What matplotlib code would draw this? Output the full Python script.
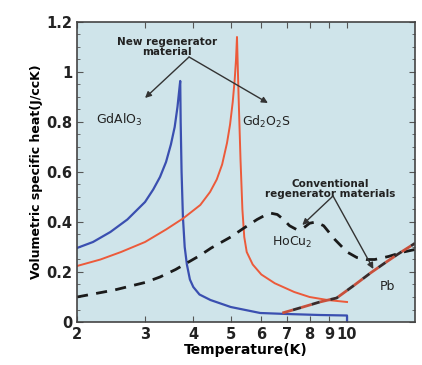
import matplotlib
matplotlib.use('Agg')
import matplotlib.pyplot as plt
from matplotlib.ticker import FixedLocator, NullLocator, MultipleLocator

# GdAlO3 (new regenerator material)
gdalo3_T = [2.0, 2.2, 2.44, 2.7, 3.0, 3.15, 3.28, 3.4, 3.5, 3.58, 3.64, 3.68, 3.70,
            3.71, 3.73, 3.76, 3.80, 3.85, 3.92, 4.0, 4.15, 4.43, 5.0, 5.96, 7.0, 8.5,
            10.0, 10.0]
gdalo3_C = [0.296, 0.32, 0.36, 0.41, 0.48, 0.53, 0.58, 0.64, 0.71, 0.78, 0.86, 0.93, 0.964,
            0.8, 0.6, 0.42, 0.3, 0.23, 0.17, 0.14, 0.11, 0.088, 0.06, 0.036, 0.032, 0.028,
            0.026, 0.0]

# Gd2O2S (new regenerator material)
gd2o2s_T = [2.0, 2.3, 2.6, 3.0, 3.4, 3.77, 4.17, 4.42, 4.6, 4.75, 4.89, 4.98, 5.06,
            5.12, 5.16, 5.19, 5.24, 5.30, 5.36, 5.42, 5.5, 5.7, 6.0, 6.5, 7.3, 8.0,
            8.9, 10.0]
gd2o2s_C = [0.224, 0.25, 0.28, 0.32, 0.37, 0.415, 0.468, 0.52, 0.57, 0.63, 0.716, 0.79, 0.88,
            0.97, 1.05, 1.14, 0.9, 0.65, 0.45, 0.34, 0.28, 0.23, 0.19, 0.155, 0.12, 0.1,
            0.088, 0.08]

# HoCu2 (conventional)
hocu2_T = [2.0, 2.5, 3.0, 3.28, 3.6, 3.85, 4.15, 4.45, 5.0, 5.4, 5.85, 6.1, 6.36, 6.6,
           6.85, 7.1, 7.4, 7.7, 8.0, 8.3, 8.7, 9.3, 10.0, 10.6, 11.2, 11.8, 12.8, 14.0, 15.0]
hocu2_C = [0.1, 0.128, 0.158, 0.18, 0.21, 0.236, 0.265, 0.296, 0.34, 0.375, 0.41, 0.425, 0.435, 0.43,
           0.41, 0.385, 0.37, 0.375, 0.395, 0.4, 0.385, 0.33, 0.28, 0.258, 0.25, 0.25, 0.262, 0.28, 0.29]

# Pb (conventional)
pb_T = [6.8, 7.5, 8.5, 9.4, 10.5, 11.5, 12.5, 13.5, 15.0]
pb_C = [0.036, 0.055, 0.08, 0.096, 0.15, 0.196, 0.235, 0.27, 0.315]

x_ticks = [2, 3, 4, 5, 6, 7, 8, 9, 10]
y_ticks = [0, 0.2, 0.4, 0.6, 0.8, 1.0, 1.2]
y_tick_labels = ['0', '0.2', '0.4', '0.6', '0.8', '1', '1.2']

plt.rcParams['font.family'] = 'DejaVu Sans'

fig = plt.figure(figsize=(4.22, 3.65), dpi=100)
ax = fig.add_axes([0.1825, 0.1178, 0.801, 0.822])
ax.set_facecolor('#cfe4ea')

ax.plot(gdalo3_T, gdalo3_C, color='#3a4fb0', lw=1.6)
ax.plot(gd2o2s_T, gd2o2s_C, color='#ec5a3a', lw=1.4)
ax.plot(hocu2_T, hocu2_C, color='#1a1a1a', lw=2.0, dashes=(4, 3))
# Pb: red and dark dashes alternating
ax.plot(pb_T, pb_C, color='#c8503c', lw=2.0, dashes=(4, 3))
ax.plot(pb_T, pb_C, color='#3a2a2a', lw=2.0, dashes=(0, 4, 3, 0))

ax.set_xscale('log')
ax.set_xlim(2, 15)
ax.set_ylim(0, 1.2)
ax.xaxis.set_major_locator(FixedLocator(x_ticks))
ax.xaxis.set_minor_locator(NullLocator())
ax.set_xticklabels([str(t) for t in x_ticks])
ax.set_yticks(y_ticks)
ax.set_yticklabels(y_tick_labels)
ax.yaxis.set_minor_locator(MultipleLocator(0.05))
ax.tick_params(which='both', direction='in', top=True, right=True, color='#555555')
ax.tick_params(which='major', length=4, labelsize=10.5)
ax.tick_params(which='minor', length=2)
for lab in ax.get_xticklabels() + ax.get_yticklabels():
    lab.set_fontweight('bold')
    lab.set_color('#222222')
for sp in ax.spines.values():
    sp.set_color('#444444')
    sp.set_linewidth(1.2)

ax.set_xlabel('Temperature(K)', fontsize=10, fontweight='bold', labelpad=1)
ax.set_ylabel('Volumetric specific heat(J/ccK)', fontsize=9, fontweight='bold', labelpad=2)

arrow = dict(arrowstyle='-|>', color='#333333', lw=1.0, mutation_scale=9, shrinkA=0, shrinkB=0)
ax.text(3.42, 1.10, 'New regenerator\nmaterial', ha='center', va='center',
        fontsize=7.5, fontweight='bold', color='#222222', linespacing=0.95)
ax.annotate('', xy=(3.0, 0.896), xytext=(3.9, 1.06), arrowprops=arrow)
ax.annotate('', xy=(6.24, 0.876), xytext=(3.9, 1.06), arrowprops=arrow)
ax.text(2.58, 0.81, 'GdAlO$_3$', ha='center', va='center', fontsize=9, color='#222222')
ax.text(6.2, 0.80, 'Gd$_2$O$_2$S', ha='center', va='center', fontsize=9, color='#222222')

ax.text(9.04, 0.532, 'Conventional\nregenerator materials', ha='center', va='center',
        fontsize=7.5, fontweight='bold', color='#222222', linespacing=0.95)
ax.annotate('', xy=(7.66, 0.388), xytext=(9.2, 0.504), arrowprops=arrow)
ax.annotate('', xy=(11.7, 0.212), xytext=(9.2, 0.504), arrowprops=arrow)
ax.text(7.2, 0.32, 'HoCu$_2$', ha='center', va='center', fontsize=9, color='#222222')
ax.text(12.7, 0.14, 'Pb', ha='center', va='center', fontsize=9, color='#222222')

fig.savefig('out.png', dpi=100)
